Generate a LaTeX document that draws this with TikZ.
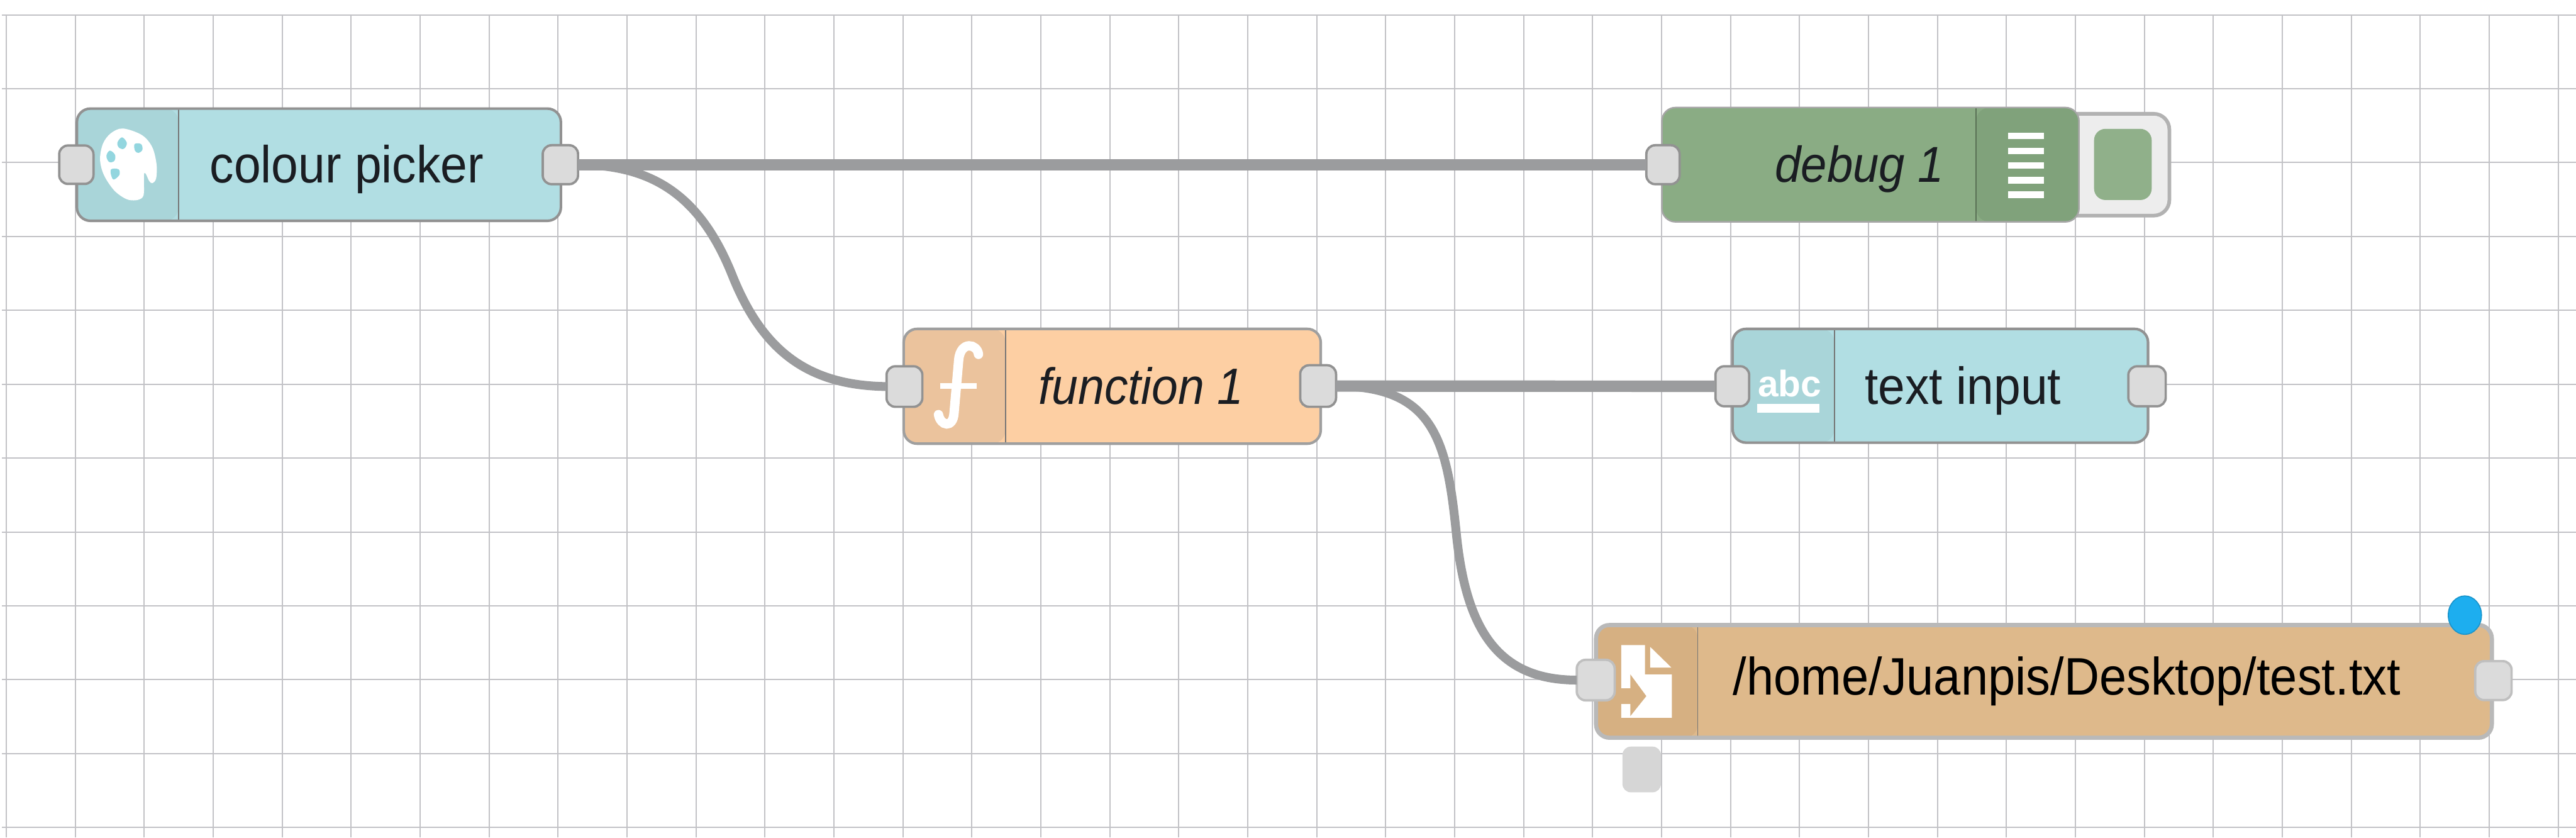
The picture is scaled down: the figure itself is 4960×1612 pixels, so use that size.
\documentclass[tikz,border=0pt]{standalone}
\usepackage{fontspec}
\setmainfont{Liberation Sans}
\usetikzlibrary{shapes.geometric}
\definecolor{gridline}{HTML}{C2C2C6}
\definecolor{wirecol}{HTML}{9B9C9E}
\definecolor{edgecol}{HTML}{929292}
\definecolor{portfill}{HTML}{DBDBDB}
\definecolor{aquabody}{HTML}{B1DEE3}
\definecolor{aquaicon}{HTML}{A9D5D9}
\definecolor{aquahole}{HTML}{93D6DF}
\definecolor{fnbody}{HTML}{FDCFA3}
\definecolor{fnicon}{HTML}{EBC39D}
\definecolor{dbgbody}{HTML}{8AAC84}
\definecolor{dbgicon}{HTML}{80A27B}
\definecolor{filebody}{HTML}{DEB98B}
\definecolor{fileicon}{HTML}{D6B082}
\definecolor{bluedot}{HTML}{1DAEEF}
\definecolor{labelcol}{HTML}{1A1D22}
\tikzset{
  x=0.1pt,y=-0.1pt,
  gridrule/.style={draw=gridline,line width=0.25pt},
  flowbody/.style={rectangle,draw=edgecol,line width=0.5pt,rounded corners=2.6pt,inner sep=0pt,outer sep=0pt},
  iconleft/.style 2 args={fill=#1,path picture={
     \fill[#2] (path picture bounding box.north west) rectangle ([xshift=19.6pt]path picture bounding box.south west);
     \draw[edgecol!80!black,line width=0.2pt] ([xshift=19.6pt]path picture bounding box.north west) -- ([xshift=19.6pt]path picture bounding box.south west);}},
  iconright/.style 2 args={fill=#1,path picture={
     \fill[#2] (path picture bounding box.north east) rectangle ([xshift=-19.8pt]path picture bounding box.south east);
     \draw[#2!70!black,line width=0.2pt] ([xshift=-19.8pt]path picture bounding box.north east) -- ([xshift=-19.8pt]path picture bounding box.south east);}},
  port/.style={rectangle,fill=portfill,draw=edgecol,line width=0.45pt,rounded corners=1.7pt,inner sep=0pt,outer sep=0pt},
  wire/.style={draw=wirecol,line width=1.7pt},
  straightwire/.style={draw=wirecol,line width=2.2pt},
  flowlabel/.style={anchor=base west,inner sep=0pt,outer sep=0pt,text=labelcol,transform shape,yscale=1.08,font=\fontsize{9.3}{11}\selectfont},
}
\begin{document}
\begin{tikzpicture}
\useasboundingbox (0,0) rectangle (4960,1612);
\fill[white] (0,0) rectangle (4960,1612);
% grid
\foreach \k in {0,...,37}{\draw[gridrule] ({12+132.8*\k},28.5) -- ({12+132.8*\k},1612);}
\foreach \k in {0,...,11}{\draw[gridrule] (4,{28.5+142.2*\k}) -- (4960,{28.5+142.2*\k});}

% debug button (behind the node)
\node[rectangle,fill=white!93!black,draw=gray!60,line width=0.7pt,rounded corners=3pt,minimum width=27pt,minimum height=19.6pt,inner sep=0pt] (dbgbtn) at (4042,317) {};
\node[rectangle,fill=dbgbody!95!white,rounded corners=2.2pt,minimum width=11.1pt,minimum height=13.7pt,inner sep=0pt] (dbgled) at (4087.5,316.5) {};

% node bodies
\node[flowbody,iconleft={aquabody}{aquaicon},minimum width=93.2pt,minimum height=21.6pt] (picker) at (614,317) {};
\node[flowbody,iconright={dbgbody}{dbgicon},draw=gray!70,line width=0.3pt,minimum width=80.3pt,minimum height=22pt] (debug) at (3601.5,317) {};
\node[flowbody,iconleft={fnbody}{fnicon},draw=gray!75,minimum width=80.3pt,minimum height=22.1pt] (func) at (2141.5,743.5) {};
\node[flowbody,iconleft={aquabody}{aquaicon},minimum width=80pt,minimum height=21.9pt] (tinput) at (3736,742.5) {};
\node[flowbody,iconleft={filebody}{fileicon},draw=gray!55,line width=0.8pt,minimum width=172.5pt,minimum height=21.7pt] (fileout) at (3935.5,1311.5) {};

% palette icon
\begin{scope}[shift={(150,220)},x=0.0333pt,y=-0.0333pt]
\fill[white] plot[smooth cycle,tension=0.55] coordinates {(260,82) (370,120) (430,190) (455,290) (452,372) (430,398) (412,385) (392,343) (382,350) (382,450) (372,482) (335,497) (280,490) (210,440) (150,350) (128,260) (145,170) (190,110)};
\fill[aquahole] plot[smooth cycle,tension=0.6] coordinates {(255,133) (283,165) (268,198) (240,195) (228,165)};
\fill[aquahole] plot[smooth cycle,tension=0.6] coordinates {(328,172) (365,172) (373,205) (350,223) (330,210)};
\fill[aquahole] plot[smooth cycle,tension=0.6] coordinates {(185,210) (215,235) (210,270) (180,275) (165,240)};
\fill[aquahole] plot[smooth cycle,tension=0.6] coordinates {(192,318) (235,318) (240,350) (208,377) (193,355)};
\end{scope}

% debug bars
\foreach \ya in {255,284,312,340,368}{\fill[white] (3867,\ya) rectangle (3935,\ya+13);}

% function icon
\draw[white,line width=1.8pt,line cap=round] (1884,682) .. controls (1882,662) and (1850,655) .. (1846,692) -- (1837,795) .. controls (1835,825) and (1811,820) .. (1807,798);
\fill[white] (1810,737) rectangle (1880,748);

% abc icon
\node[anchor=base west,inner sep=0pt,text=white,font=\fontsize{7.1}{8}\selectfont\bfseries] (abcicon) at (3383,763) {abc};
\fill[white] (3383,778) rectangle (3503,794);

% file icon
\begin{scope}[shift={(3080,1200)},x=0.0333pt,y=-0.0333pt]
\fill[white] (125,125) -- (262,125) -- (262,295) -- (418,295) -- (418,545) -- (125,545) -- cycle;
\fill[white] (292,135) -- (415,255) -- (292,255) -- cycle;
\fill[fileicon] (95,375) -- (178,375) -- (178,295) -- (270,420) -- (178,535) -- (178,465) -- (95,465) -- cycle;
\end{scope}

% labels
\node[flowlabel] (pickertext) at (404,352) {colour picker};
\node[flowlabel,font=\fontsize{9}{11}\selectfont\itshape] (debugtext) at (3418,351) {debug 1};
\node[flowlabel,font=\fontsize{9.1}{11}\selectfont\itshape] (functext) at (2000,778) {function 1};
\node[flowlabel] (tinputtext) at (3591,778) {text input};
\node[flowlabel,font=\fontsize{9.4}{11}\selectfont,text=black] (filetext) at (3337,1338) {/home/Juanpis/Desktop/test.txt};

% ports
\node[port,minimum width=6.6pt,minimum height=7.4pt] (pickerin) at (147,317) {};
\node[port,minimum width=6.8pt,minimum height=7.5pt] (pickerout) at (1079,317) {};
\node[port,minimum width=6.4pt,minimum height=7.5pt] (debugin) at (3202,317) {};
\node[port,minimum width=6.9pt,minimum height=7.8pt] (funcin) at (1741.5,744) {};
\node[port,minimum width=6.9pt,minimum height=8pt] (funcout) at (2538,743) {};
\node[port,minimum width=6.5pt,minimum height=7.7pt] (tinputin) at (3335.5,743.5) {};
\node[port,minimum width=7.2pt,minimum height=7.7pt] (tinputout) at (4134,743.5) {};
\node[port,draw=gray!50,minimum width=7.3pt,minimum height=7.8pt] (filein) at (3072.5,1309) {};
\node[port,draw=gray!50,minimum width=7pt,minimum height=7.5pt] (fileport) at (4801,1310) {};

% status marks
\node[ellipse,fill=bluedot,draw=bluedot!85!black,line width=0.2pt,minimum width=6.4pt,minimum height=7.4pt,inner sep=0pt] (statusdot) at (4746,1184) {};
\node[rectangle,fill=gray!32,rounded corners=1.6pt,minimum width=7.4pt,minimum height=8.8pt,inner sep=0pt] (statusbox) at (3161,1481) {};

% wires
\coordinate (wireA) at (1410,530);
\coordinate (wireB) at (2804,1026);
\draw[straightwire] (pickerout.east) -- (debugin.west);
\draw[wire] (pickerout.east) .. controls (1260,317) and (1350,380) .. (wireA) .. controls (1470,680) and (1560,742) .. (funcin.west);
\draw[straightwire] (funcout.east) -- (tinputin.west);
\draw[wire] (funcout.east) .. controls (2760,743) and (2786,846) .. (wireB) .. controls (2822,1206) and (2880,1309) .. (filein.west);
\end{tikzpicture}
\end{document}
